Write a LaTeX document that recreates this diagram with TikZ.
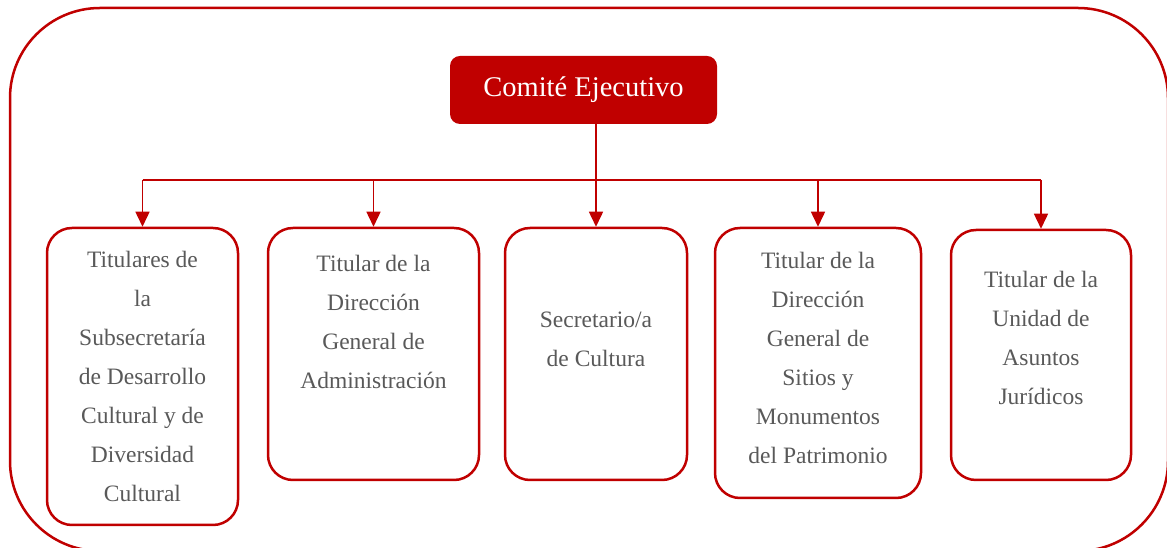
\documentclass[tikz,border=0pt]{standalone}
\usepackage{fontspec}
\setmainfont{Liberation Serif}
\usepackage{tikz}
\usepackage{xcolor}
\usetikzlibrary{arrows.meta}
\definecolor{orgred}{HTML}{C00000}
\definecolor{orggray}{HTML}{595959}
\tikzset{
    org-frame/.style = {draw=orgred, line width=2.5pt, rounded corners=90pt},
    org-head/.style = {fill=orgred, text=white, rectangle, rounded corners=10pt, minimum width=267pt, minimum height=68pt, font=\fontsize{28.5}{32}\selectfont},
    org-box/.style = {draw=orgred, fill=white, line width=2.5pt, rectangle, rounded corners=25pt, align=center, text=orggray, inner sep=0pt, font=\fontsize{23.5}{39}\selectfont},
    org-line/.style = {draw=orgred, line width=1.5pt},
    org-link/.style = {org-line, -{Triangle[width=14pt,length=15pt]}},
}
\begin{document}
\begin{tikzpicture}[x=1pt, y=1pt]
\useasboundingbox (0,0) rectangle (1167,548);
\draw[org-frame] (10,-3) rectangle (1168,540);

\node[org-head] (head) at (583.5,458) {Comité Ejecutivo};

\node[org-box, minimum width=191pt, minimum height=297pt, text depth=0pt] (sub) at (142.5,171.5) {Titulares de\\ la\\ Subsecretaría\\ de Desarrollo\\ Cultural y de\\ Diversidad\\ Cultural};
\node[org-box, minimum width=211pt, minimum height=252pt, text depth=64pt] (adm) at (373.5,194) {Titular de la\\ Dirección\\ General de\\ Administración};
\node[org-box, minimum width=182pt, minimum height=252pt, text depth=30pt] (sec) at (596,194) {Secretario/a\\ de Cultura};
\node[org-box, minimum width=206pt, minimum height=270pt, text depth=10pt] (sit) at (818,185) {Titular de la\\ Dirección\\ General de\\ Sitios y\\ Monumentos\\ del Patrimonio};
\node[org-box, minimum width=180pt, minimum height=250pt, text depth=34pt] (jur) at (1041,193) {Titular de la\\ Unidad de\\ Asuntos\\ Jurídicos};

\coordinate (bus) at (0,368);
\draw[org-link] (head.south -| sec.north) -- (sec.north);
\draw[org-line] (sub.north |- bus) -- (jur.north |- bus);
\draw[org-link] (sub.north |- bus) -- (sub.north);
\draw[org-link] (adm.north |- bus) -- (adm.north);
\draw[org-link] (sit.north |- bus) -- (sit.north);
\draw[org-link] (jur.north |- bus) -- (jur.north);
\end{tikzpicture}
\end{document}
